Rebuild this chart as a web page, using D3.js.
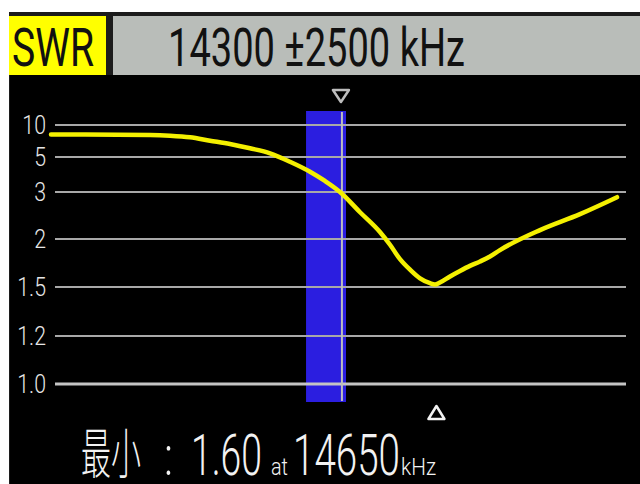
<!DOCTYPE html>
<html>
<head>
<meta charset="utf-8">
<script src="https://cdn.jsdelivr.net/npm/d3@7/dist/d3.min.js"></script>
<style>
  html, body { margin: 0; padding: 0; background: #ffffff; }
  svg { display: block; }
</style>
</head>
<body>
<svg id="chart" width="640" height="484"></svg>
<script>
// ---- data ----
const centerKHz = 14300;
const spanKHz = 2500;
const freqKHz = [11800, 12675, 12851, 13028, 13205, 13381, 13558, 13735, 13911, 14088, 14220, 14353, 14530, 14706, 14795, 14883, 14972, 15060, 15148, 15192, 15236, 15325, 15413, 15501, 15590, 15678, 15766, 16120, 16473, 16800];
const swrValues = [8.52, 8.44, 8.33, 8.08, 7.55, 7.03, 6.36, 5.58, 4.73, 4.16, 3.63, 3.0, 2.57, 2.15, 1.94, 1.79, 1.68, 1.59, 1.54, 1.526, 1.547, 1.61, 1.667, 1.72, 1.766, 1.818, 1.885, 2.19, 2.53, 2.89];
const swrTicks = [1.0, 1.2, 1.5, 2, 3, 5, 10];
const swrTickLabels = ["1.0", "1.2", "1.5", "2", "3", "5", "10"];
const bandKHz = [14053, 14406];
const markerKHz = 14370;
const minMarkerKHz = 15205;
const minSWR = 1.60;
const minFreqKHz = 14650;

// ---- layout ----
const svg = d3.select("#chart");
const W = 640, H = 484;
const screen = { x: 10, y: 14 };
const plot = { left: 51, right: 617, gridLeft: 55, gridRight: 626, top: 125, bottom: 384 };

const x = d3.scaleLinear().domain([centerKHz - spanKHz, centerKHz + spanKHz]).range([plot.left, plot.right]);
const ph = plot.bottom - plot.top;
const yFrac = [0, 0.1853, 0.3745, 0.5598, 0.7413, 0.8764, 1.0];
const y = d3.scaleLinear().domain(swrTicks).range(yFrac.map(f => plot.bottom - f * ph));

// fit a text horizontally to a target ink width by scaling
function fitText(g, x0, yb, str, size, family, width, weight, color) {
  const t = g.append("text")
    .attr("font-family", family).attr("font-size", size)
    .attr("font-weight", weight || 400)
    .attr("fill", color).text(str);
  const bb = t.node().getBBox();
  const sx = width / bb.width;
  t.attr("transform", `translate(${x0},${yb}) scale(${sx},1)`);
  return t;
}

// screen background
svg.append("rect").attr("x", screen.x - 1).attr("y", screen.y - 2).attr("width", W - screen.x + 1).attr("height", H - screen.y + 2).attr("fill", "#1c1c1c");
svg.append("rect").attr("x", screen.x).attr("y", 75).attr("width", W - screen.x).attr("height", H - 75).attr("fill", "#000");

// header
svg.append("rect").attr("x", 9).attr("y", 16).attr("width", 97).attr("height", 59).attr("fill", "#ffff00");
svg.append("rect").attr("x", 113).attr("y", 16).attr("width", 527).attr("height", 59).attr("fill", "#b9bdb9");
const header = svg.append("g");
fitText(header, 12, 66, "SWR", 54, "Roboto, 'Liberation Sans', sans-serif", 82, 400, "#111");
fitText(header, 168, 66, `${centerKHz} \u00B1${spanKHz} kHz`, 54, "Roboto, 'Liberation Sans', sans-serif", 297, 400, "#111");

// band
svg.append("rect")
  .attr("x", x(bandKHz[0])).attr("y", 111)
  .attr("width", x(bandKHz[1]) - x(bandKHz[0])).attr("height", 402 - 111)
  .attr("fill", "#2b1ee0");

// gridlines
svg.append("g").selectAll("line").data(swrTicks).join("line")
  .attr("x1", plot.gridLeft).attr("x2", plot.gridRight)
  .attr("y1", d => y(d)).attr("y2", d => y(d))
  .attr("stroke", d => d === 1 ? "#c4c4c4" : "#a8a8a8")
  .attr("stroke-width", d => d === 1 ? 3 : 2);

// marker line
svg.append("line")
  .attr("x1", x(markerKHz)).attr("x2", x(markerKHz))
  .attr("y1", 112).attr("y2", 401)
  .attr("stroke", "#bdbdbd").attr("stroke-width", 2);

// tick labels
svg.append("g").selectAll("text").data(swrTicks).join("text")
  .attr("transform", d => `translate(46,${y(d) + 9}) scale(0.82,1)`)
  .attr("text-anchor", "end")
  .attr("font-family", "Roboto, 'Liberation Sans', sans-serif").attr("font-size", 26)
  .attr("font-weight", 300)
  .attr("fill", "#e6e6e6")
  .text((d, i) => swrTickLabels[i]);

// curve
const pts = freqKHz.map((f, i) => [f, swrValues[i]]);
svg.append("path").datum(pts)
  .attr("d", d3.line().x(d => x(d[0])).y(d => y(d[1])).curve(d3.curveMonotoneX))
  .attr("fill", "none").attr("stroke", "#f4f000").attr("stroke-width", 4.5)
  .attr("stroke-linejoin", "round").attr("stroke-linecap", "round");

// triangles
const tx = x(markerKHz) - 1;
svg.append("path")
  .attr("d", `M${tx - 8},90 L${tx + 8},90 L${tx},102 Z`)
  .attr("fill", "none").attr("stroke", "#bdbdbd").attr("stroke-width", 2.5).attr("stroke-linejoin", "round");
const bx = x(minMarkerKHz);
svg.append("path")
  .attr("d", `M${bx},406 L${bx + 8},419 L${bx - 8},419 Z`)
  .attr("fill", "none").attr("stroke", "#f2f2f2").attr("stroke-width", 2.5).attr("stroke-linejoin", "round");

// bottom text
const bottom = svg.append("g");
const lat = "Roboto, 'Liberation Sans', sans-serif";
fitText(bottom, 81, 474, "最小", 54, "'Noto Sans CJK SC', sans-serif", 60, 300, "#f2f2f2");
fitText(bottom, 164, 475, ":", 56, lat, 9, 300, "#f2f2f2");
fitText(bottom, 191, 475, minSWR.toFixed(2), 57, lat, 71, 300, "#f2f2f2");
fitText(bottom, 271, 475, "at", 24, lat, 17, 300, "#f2f2f2");
fitText(bottom, 293, 475, String(minFreqKHz), 57, lat, 107, 300, "#f2f2f2");
fitText(bottom, 401, 475, "kHz", 24, lat, 35, 300, "#f2f2f2");
</script>
</body>
</html>
